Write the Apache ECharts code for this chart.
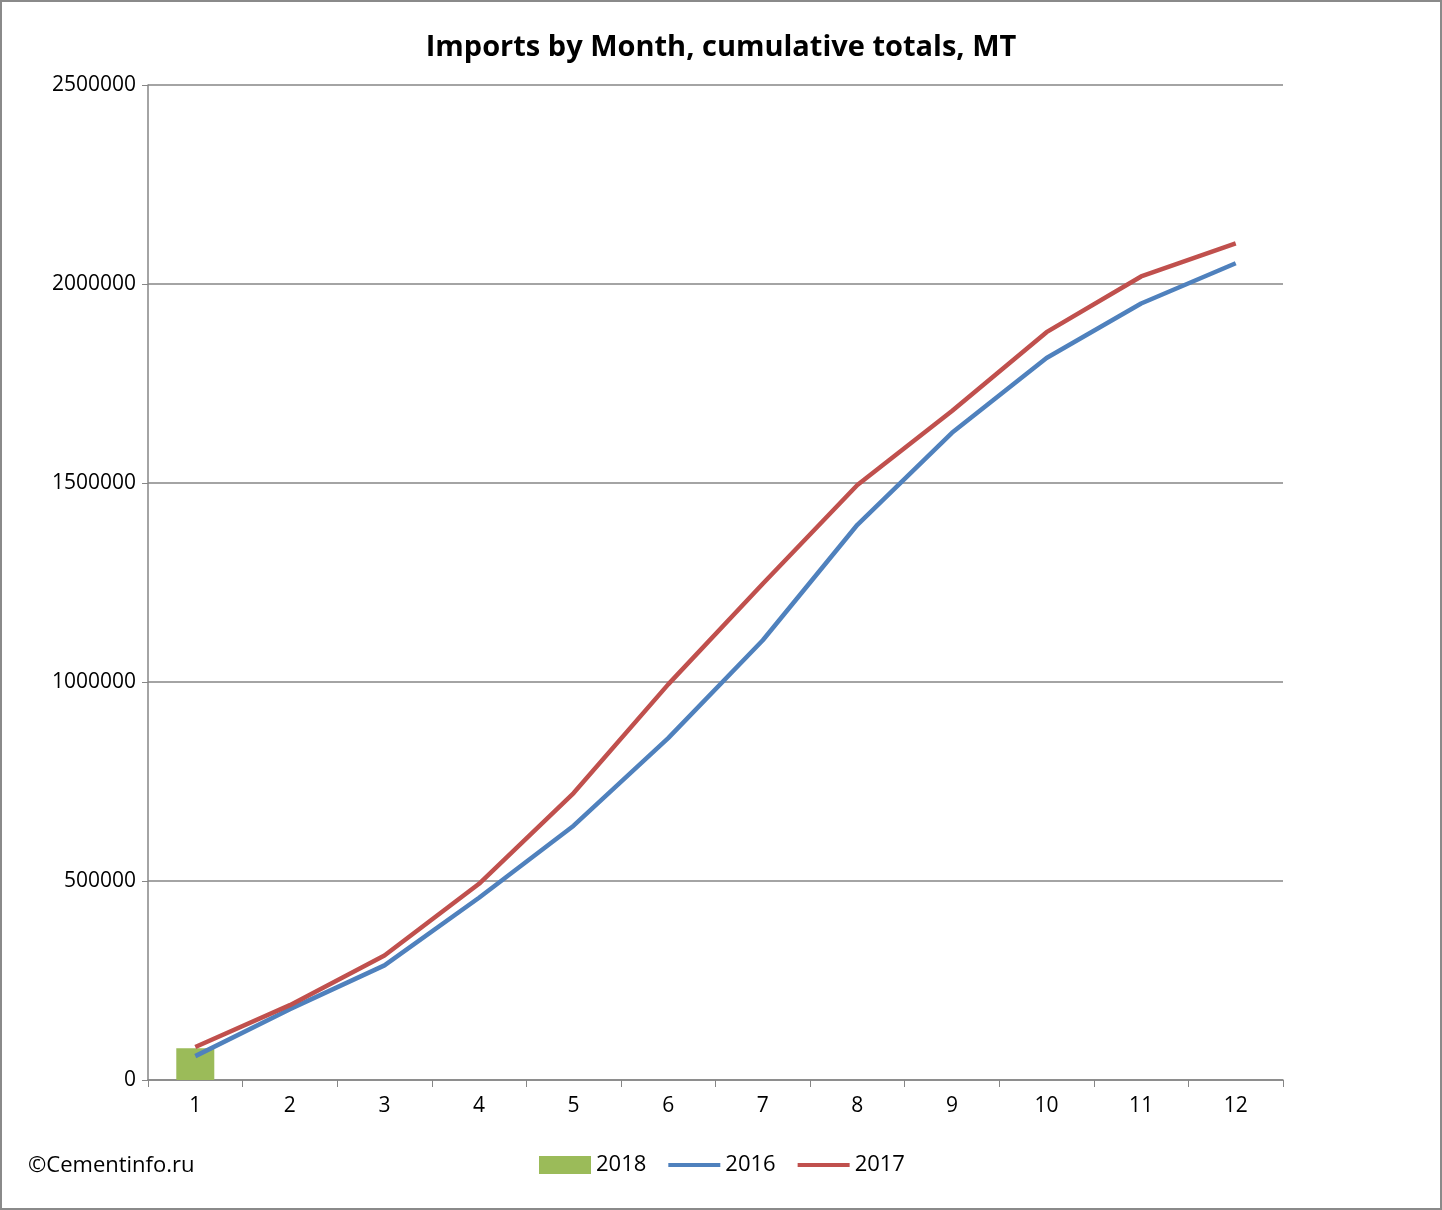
<!DOCTYPE html>
<html><head><meta charset="utf-8">
<script src="https://cdn.jsdelivr.net/npm/echarts@6/dist/echarts.min.js"></script>
<style>html,body{margin:0;padding:0;background:#fff}#c{width:1442px;height:1210px;box-sizing:border-box;border:2px solid #8a8a8a}</style>
</head><body><div id="c"></div>
<script>
const months = ['1','2','3','4','5','6','7','8','9','10','11','12'];
const s2018 = [80000, null, null, null, null, null, null, null, null, null, null, null];
const s2016 = [60000,178000,288000,458000,639000,859000,1105000,1395000,1626000,1814000,1951000,2052000];
const s2017 = [83000,188000,313000,493000,721000,994000,1247000,1495000,1681000,1879000,2019000,2102000];
const yTicks = {min:0, max:2500000, interval:500000};
const ff = '"Open Sans", "Liberation Sans", sans-serif';
const chart = echarts.init(document.getElementById('c'));
chart.setOption({
  animation:false,
  textStyle:{fontFamily:ff},
  title:{text:'Imports by Month, cumulative totals, MT',left:'center',top:26,
    textStyle:{fontSize:29,fontWeight:'bold',color:'#000',fontFamily:ff}},
  graphic:[{type:'text',left:26,top:1153,style:{text:'©Cementinfo.ru',fontSize:22,fill:'#000',fontFamily:ff}}],
  legend:{bottom:27,left:532,itemGap:22,itemWidth:52,itemHeight:18,
    textStyle:{fontSize:22,color:'#000',fontFamily:ff},
    data:[{name:'2018',icon:'rect'},{name:'2016',icon:'path://M0,7L52,7L52,11L0,11Z'},{name:'2017',icon:'path://M0,7L52,7L52,11L0,11Z'}]},
  grid:{left:146,right:157,top:83,bottom:128},
  xAxis:{type:'category',data:months,boundaryGap:true,
    axisLine:{lineStyle:{color:'#868686',width:1.5}},
    axisTick:{show:true,length:7,lineStyle:{color:'#868686'}},
    axisLabel:{fontSize:21,color:'#000',margin:16}},
  yAxis:{type:'value',min:yTicks.min,max:yTicks.max,interval:yTicks.interval,
    axisLine:{show:true,lineStyle:{color:'#868686',width:1.5}},
    axisTick:{show:true,length:6,lineStyle:{color:'#868686'}},
    splitLine:{lineStyle:{color:'#868686',width:1.5}},
    axisLabel:{fontSize:21,color:'#000',margin:12,formatter:v=>String(v)}},
  series:[
    {name:'2018',type:'bar',data:s2018,barWidth:38,itemStyle:{color:'#9bbb59'}},
    {name:'2016',type:'line',data:s2016,symbol:'none',lineStyle:{color:'#4f81bd',width:4.5},itemStyle:{color:'#4f81bd'}},
    {name:'2017',type:'line',data:s2017,symbol:'none',lineStyle:{color:'#c0504d',width:4.5},itemStyle:{color:'#c0504d'}}
  ]
});
</script></body></html>
